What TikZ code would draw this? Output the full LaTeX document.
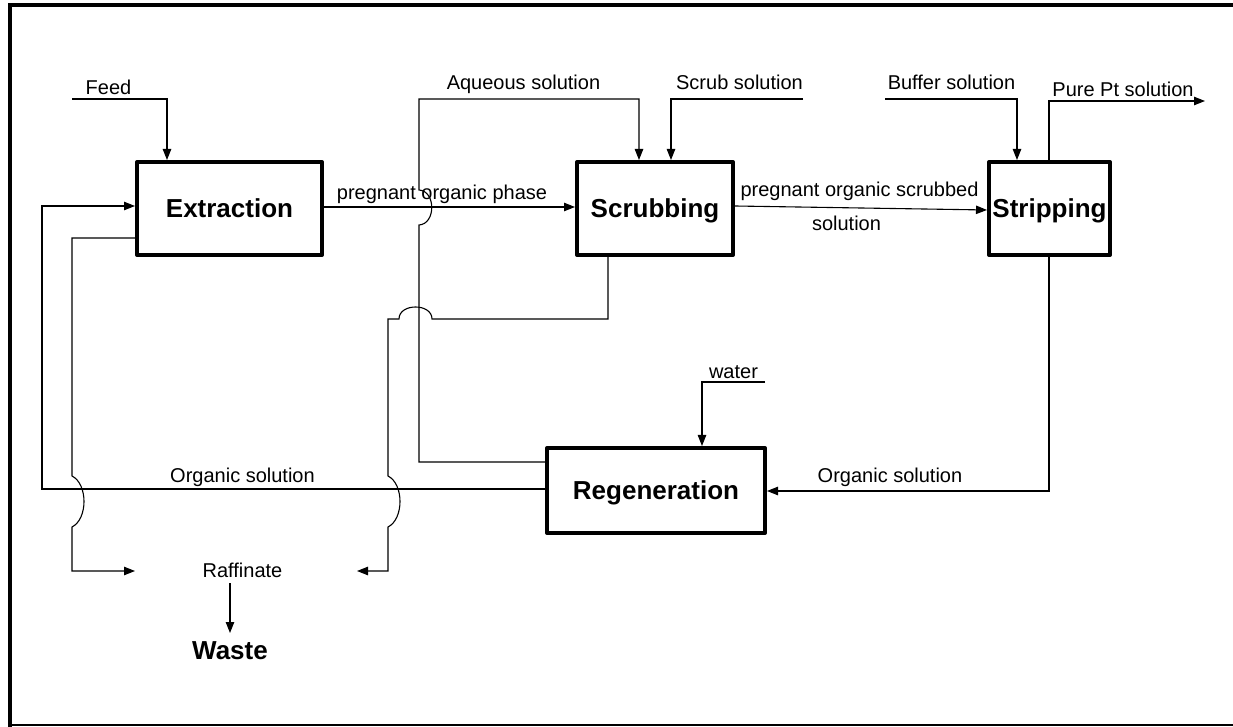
\documentclass[tikz,border=0pt]{standalone}
\usepackage{fontspec}
\setmainfont{Liberation Sans}
\usetikzlibrary{arrows.meta}
\begin{document}
\begin{tikzpicture}[x=0.5pt,y=-0.5pt,
  line/.style={line width=0.55pt},
  arr/.style={line, -{Triangle[length=5.5pt,width=4.2pt]}},
  proc/.style={draw, line width=2pt, line join=round, inner sep=0pt, font=\fontsize{13}{15}\selectfont\bfseries, text height=9.3pt, text depth=0pt},
  lab/.style={font=\fontsize{10}{12}\selectfont, inner sep=0pt, anchor=base},
  big/.style={font=\fontsize{13}{15}\selectfont\bfseries, inner sep=0pt, anchor=base}]
\useasboundingbox (0,0) rectangle (1233,727);
% frame
\draw[line width=2pt] (10,727) -- (10,5) -- (1233,5);
\draw[line width=1pt] (10,725) -- (1233,725);
% process boxes
\node[proc, minimum width=92.5pt, minimum height=46.5pt] (ext) at (229.5,208.5) {Extraction};
\node[proc, minimum width=78pt, minimum height=46.5pt] (scrub) at (655,208.5) {Scrubbing};
\node[proc, minimum width=60.5pt, minimum height=46.5pt] (strip) at (1049.5,208.5) {Stripping};
\node[proc, minimum width=109pt, minimum height=42.5pt] (reg) at (656,490.5) {Regeneration};
% labels
\node[lab] (tfeed) at (108.5,95) {Feed};
\node[lab] (taq) at (523.5,90) {Aqueous solution};
\node[lab] (tscrub) at (739.5,90) {Scrub solution};
\node[lab] (tbuf) at (951.5,90) {Buffer solution};
\node[lab] (tpt) at (1123,97) {Pure Pt solution};
\node[lab] (tpop) at (442,200) {pregnant organic phase};
\node[lab] (tpos) at (859.5,197) {pregnant organic scrubbed};
\node[lab] (tsol) at (846.5,231) {solution};
\node[lab] (torgl) at (242.5,483) {Organic solution};
\node[lab] (torgr) at (890,483) {Organic solution};
\node[lab] (twater) at (733.5,379) {water};
\node[lab] (raff) at (242.5,577) {Raffinate};
\node[big] (waste) at (230,659) {Waste};
% coordinates
\coordinate (feed1) at (72,99); \coordinate (feed2) at (167,99);
\coordinate (c1) at (42,489); \coordinate (c2) at (42,206);
\coordinate (d1) at (72,238); \coordinate (d2) at (72,476); \coordinate (d3) at (72,527);
\coordinate (d4) at (72,571); \coordinate (d5) at (135,571);
\coordinate (e1) at (419,462); \coordinate (e2) at (419,225); \coordinate (e3) at (419,190);
\coordinate (e4) at (419,99); \coordinate (e5) at (639,99);
\coordinate (f1) at (608,319); \coordinate (f2) at (432,319); \coordinate (f3) at (399,319);
\coordinate (f4) at (388,319); \coordinate (f5) at (388,476); \coordinate (f6) at (388,527);
\coordinate (f7) at (388,571); \coordinate (f8) at (357,571);
\coordinate (g1) at (803,99); \coordinate (g2) at (671,99);
\coordinate (h1) at (885,99); \coordinate (h2) at (1017,99);
\coordinate (i1) at (1049,101); \coordinate (i2) at (1205,101);
\coordinate (j1) at (1049,491);
\coordinate (k1) at (765,382); \coordinate (k2) at (702,382);
\coordinate (w1) at (230,583); \coordinate (w2) at (230,633);
\coordinate (p1) at (0,207); \coordinate (s1) at (0,206); \coordinate (s2) at (0,210);
% connectors
\draw[arr] (feed1) -- (feed2) -- (feed2 |- ext.north);
\draw[arr] (reg.west |- c1) -- (c1) -- (c2) -- (ext.west |- c2);
\draw[arr] (ext.west |- d1) -- (d1) -- (d2) .. controls (88,484) and (88,519) .. (d3) -- (d4) -- (d5);
\draw[arr] (ext.east |- p1) -- (scrub.west |- p1);
\draw[arr] (reg.west |- e1) -- (e1) -- (e2) .. controls (436,224) and (436,191) .. (e3) -- (e4) -- (e5) -- (e5 |- scrub.north);
\draw[arr] (f1 |- scrub.south) -- (f1) -- (f2) .. controls (432,303) and (399,303) .. (f3) -- (f4) -- (f5) .. controls (404,484) and (404,519) .. (f6) -- (f7) -- (f8);
\draw[arr] (g1) -- (g2) -- (g2 |- scrub.north);
\draw[arr] (scrub.east |- s1) -- (strip.west |- s2);
\draw[arr] (h1) -- (h2) -- (h2 |- strip.north);
\draw[arr] (i1 |- strip.north) -- (i1) -- (i2);
\draw[arr] (j1 |- strip.south) -- (j1) -- (reg.east |- j1);
\draw[arr] (k1) -- (k2) -- (k2 |- reg.north);
\draw[arr] (w1) -- (w2);
\end{tikzpicture}
\end{document}
